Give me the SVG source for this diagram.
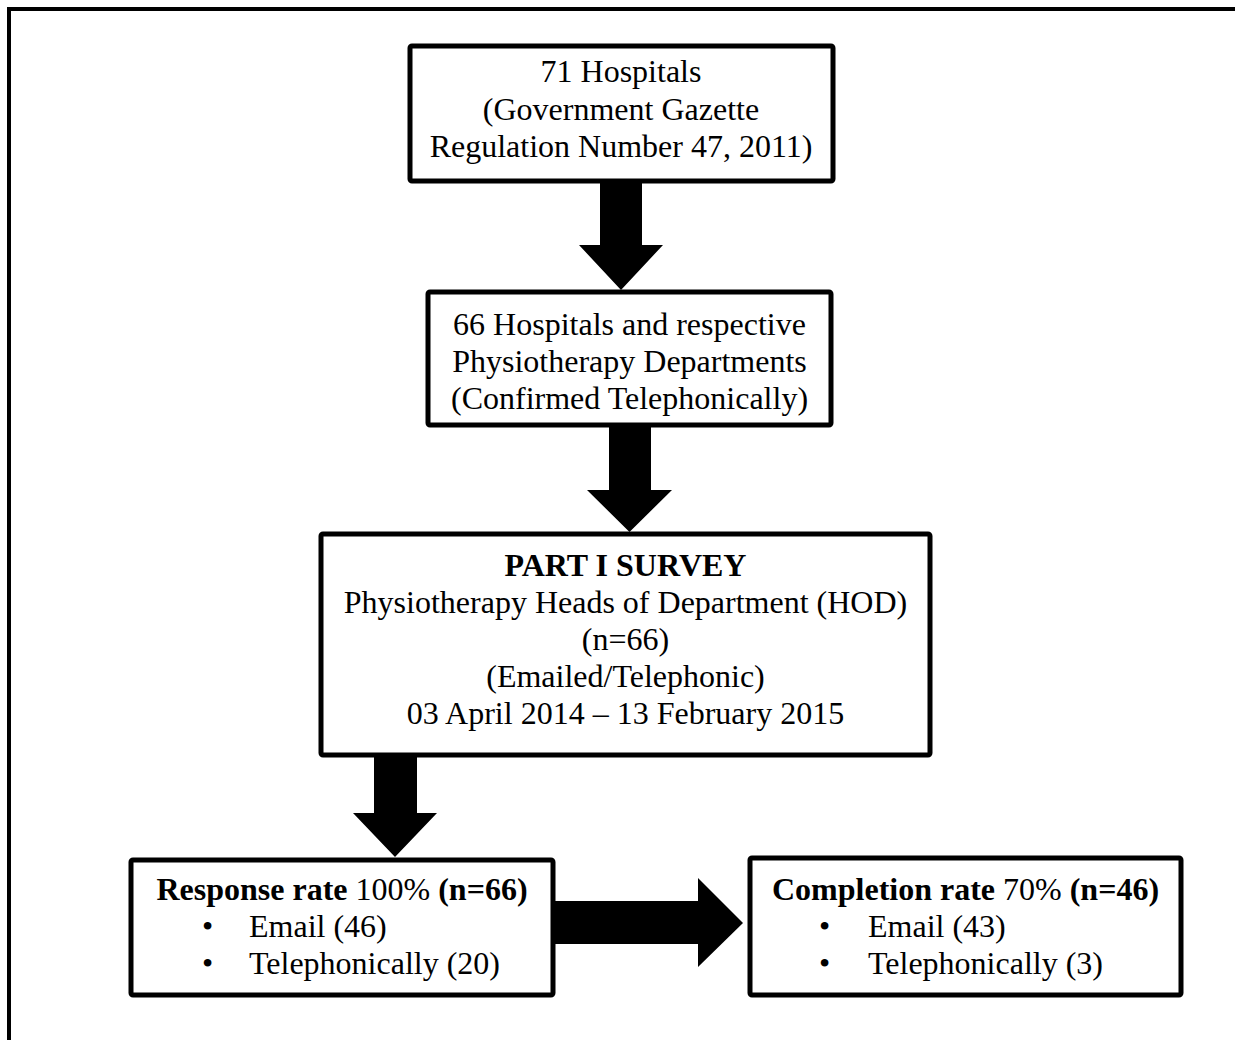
<svg xmlns="http://www.w3.org/2000/svg" width="1235" height="1040" viewBox="0 0 1235 1040">
  <style>
    .frame { fill: none; stroke: #000; stroke-width: 4; }
    .box { fill: #fff; stroke: #000; stroke-width: 5; }
    .arrow { fill: #000; stroke: none; }
    text { font-family: "Liberation Serif", "Times New Roman", serif; font-size: 32px; fill: #000; }
    .c { text-anchor: middle; }
    .b { font-weight: bold; }
  </style>
  <rect width="1235" height="1040" fill="#fff"/>
  <!-- outer frame, running off the right and bottom edges -->
  <rect class="frame" x="9" y="9" width="1240" height="1045"/>

  <g id="connectors">
    <polygon class="arrow" points="600,181 642,181 642,245 663,245 621,290 579,245 600,245"/>
    <polygon class="arrow" points="609,425 651,425 651,490 672,490 629.5,532 587,490 609,490"/>
    <polygon class="arrow" points="374,755 417,755 417,813 437,813 395,857 353,813 374,813"/>
    <polygon class="arrow" points="553,901 698,901 698,878 743,923 698,967 698,944 553,944"/>
  </g>

  <g id="hospitals71">
    <rect class="box" x="410" y="46" width="423" height="135" rx="2"/>
    <text class="c" x="621" y="82">71 Hospitals</text>
    <text class="c" x="621" y="120">(Government Gazette</text>
    <text class="c" x="621" y="157">Regulation Number 47, 2011)</text>
  </g>

  <g id="hospitals66">
    <rect class="box" x="428" y="292" width="403" height="133" rx="2"/>
    <text class="c" x="629.5" y="335">66 Hospitals and respective</text>
    <text class="c" x="629.5" y="372">Physiotherapy Departments</text>
    <text class="c" x="629.5" y="409">(Confirmed Telephonically)</text>
  </g>

  <g id="survey">
    <rect class="box" x="321" y="534" width="609" height="221" rx="2"/>
    <text class="c b" x="625.5" y="576">PART I SURVEY</text>
    <text class="c" x="625.5" y="613">Physiotherapy Heads of Department (HOD)</text>
    <text class="c" x="625.5" y="650">(n=66)</text>
    <text class="c" x="625.5" y="687">(Emailed/Telephonic)</text>
    <text class="c" x="625.5" y="724">03 April 2014 – 13 February 2015</text>
  </g>

  <g id="response">
    <rect class="box" x="131" y="860" width="422" height="135" rx="2"/>
    <text class="c" x="342" y="900"><tspan class="b">Response rate</tspan> 100% <tspan class="b">(n=66)</tspan></text>
    <text x="202" y="937">•</text>
    <text x="249" y="937">Email (46)</text>
    <text x="202" y="974">•</text>
    <text x="249" y="974">Telephonically (20)</text>
  </g>

  <g id="completion">
    <rect class="box" x="750" y="858" width="431" height="137" rx="2"/>
    <text class="c" x="965.5" y="900"><tspan class="b">Completion rate</tspan> 70% <tspan class="b">(n=46)</tspan></text>
    <text x="819" y="937">•</text>
    <text x="868" y="937">Email (43)</text>
    <text x="819" y="974">•</text>
    <text x="868" y="974">Telephonically (3)</text>
  </g>
</svg>
